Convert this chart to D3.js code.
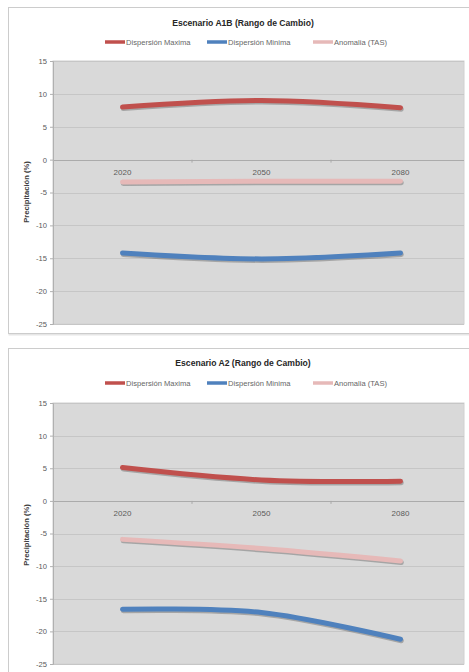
<!DOCTYPE html>
<html><head><meta charset="utf-8">
<script src="https://cdn.jsdelivr.net/npm/d3@7"></script>
<style>
html,body{margin:0;padding:0;background:#fff;}
svg{display:block;font-family:"Liberation Sans",Arial,sans-serif;}
</style></head>
<body>
<svg id="c" width="469" height="672"></svg>
<script>
const categories = ["2020", "2050", "2080"];
const yTicks = [15, 10, 5, 0, -5, -10, -15, -20, -25];
const seriesNames = ["Dispersión Maxima", "Dispersión Minima", "Anomalia (TAS)"];
const seriesColors = ["#C0504D", "#4F81BD", "#E6B9B8"];
const titles = ["Escenario A1B (Rango de Cambio)", "Escenario A2 (Rango de Cambio)"];
const yTitle = "Precipitación (%)";

// Escenario A1B
const a1bMax = [8.0, 9.0, 7.9];
const a1bMin = [-14.2, -15.1, -14.2];
const a1bAnom = [-3.4, -3.3, -3.3];
// Escenario A2
const a2Max = [5.1, 3.2, 3.0];
const a2Min = [-16.6, -17.1, -21.2];
const a2Anom = [-5.9, -7.3, -9.2];

const svg = d3.select("#c");

function drawChart(panel, title, seriesData) {
  const g = svg.append("g");
  // panel
  g.append("rect").attr("x", panel.x + 1).attr("y", panel.y + 1)
    .attr("width", panel.w).attr("height", panel.h)
    .attr("fill", "none").attr("stroke", "#e6e6e6").attr("stroke-width", 2);
  g.append("rect").attr("x", panel.x).attr("y", panel.y)
    .attr("width", panel.w).attr("height", panel.h)
    .attr("fill", "#fff").attr("stroke", "#cccccc").attr("stroke-width", 1);

  const x = d3.scaleBand().domain(categories).range([panel.plotL, panel.scaleR]);
  const y = d3.scaleLinear().domain([-25, 15]).range([panel.plotB, panel.plotT]);

  // title
  g.append("text").attr("x", panel.titleX).attr("y", panel.titleY)
    .attr("text-anchor", "middle").attr("font-size", 8.6).attr("font-weight", "bold")
    .attr("fill", "#262626").text(title);

  // legend
  const legX = [105, 207, 313];
  seriesNames.forEach((n, i) => {
    g.append("line").attr("x1", legX[i]).attr("x2", legX[i] + 20)
      .attr("y1", panel.legY).attr("y2", panel.legY)
      .attr("stroke", seriesColors[i]).attr("stroke-width", 3.5);
    g.append("text").attr("x", legX[i] + 21).attr("y", panel.legY + 2.7)
      .attr("font-size", 7.6).attr("fill", "#666").text(n);
  });

  // plot area
  g.append("rect").attr("x", panel.plotL).attr("y", y(15))
    .attr("width", panel.plotR - panel.plotL).attr("height", y(-25) - y(15))
    .attr("fill", "#D9D9D9").attr("stroke", "#d0d0d0");

  // gridlines
  g.selectAll(".grid").data(yTicks).enter().append("line")
    .attr("x1", panel.plotL).attr("x2", panel.plotR)
    .attr("y1", d => Math.round(y(d)) + 0.5).attr("y2", d => Math.round(y(d)) + 0.5)
    .attr("stroke", d => d === 0 ? "#ababab" : "#c6c6c6").attr("stroke-width", 1);

  // y axis
  const ya = g.append("g").attr("transform", `translate(${panel.plotL},0)`)
    .call(d3.axisLeft(y).tickValues(yTicks).tickFormat(d => String(d)).tickSize(3).tickPadding(3));
  ya.select(".domain").attr("stroke", "#b0b0b0");
  ya.selectAll(".tick line").attr("stroke", "#b0b0b0");
  ya.selectAll("text").attr("font-size", 7.6).attr("fill", "#595959")
    .attr("font-family", "Liberation Sans, Arial, sans-serif");

  // x axis at 0
  const xa = g.append("g").attr("transform", `translate(0,${Math.round(y(0)) + 0.5})`)
    .call(d3.axisBottom(x).tickSize(0).tickPadding(9));
  xa.select(".domain").remove();
  xa.selectAll("text").attr("font-size", 8).attr("fill", "#595959")
    .attr("font-family", "Liberation Sans, Arial, sans-serif");
  // boundary tick marks
  const bounds = categories.slice(1).map(c => x(c));
  g.selectAll(".xt").data(bounds).enter().append("line")
    .attr("x1", d => d).attr("x2", d => d)
    .attr("y1", y(0)).attr("y2", y(0) + 3)
    .attr("stroke", "#a8a8a8");

  // y title
  g.append("text")
    .attr("transform", `translate(${panel.yTitleX},${panel.yTitleY}) rotate(-90)`)
    .attr("text-anchor", "middle").attr("font-size", 7.6).attr("font-weight", "bold")
    .attr("fill", "#404040").text(yTitle);

  // lines
  const line = d3.line()
    .x((d, i) => x(categories[i]) + x.bandwidth() / 2)
    .y(d => y(d))
    .curve(d3.curveCardinal.tension(0));
  seriesData.forEach((vals, i) => {
    g.append("path").attr("d", line(vals))
      .attr("transform", "translate(0.8,1.5)")
      .attr("fill", "none").attr("stroke", "rgba(70,70,70,0.35)")
      .attr("stroke-width", 5).attr("stroke-linecap", "round");
    g.append("path").attr("d", line(vals))
      .attr("fill", "none").attr("stroke", seriesColors[i])
      .attr("stroke-width", 5).attr("stroke-linecap", "round");
  });
}

drawChart({x: 8.5, y: 7.5, w: 470, h: 326, plotL: 53, plotR: 464, scaleR: 470, plotT: 61, plotB: 324,
  titleX: 243, titleY: 26, legY: 42, yTitleX: 29, yTitleY: 192},
  titles[0], [a1bMax, a1bMin, a1bAnom]);

drawChart({x: 8.5, y: 348.5, w: 470, h: 330, plotL: 53, plotR: 464, scaleR: 470, plotT: 403, plotB: 664,
  titleX: 243, titleY: 366, legY: 383, yTitleX: 29, yTitleY: 535},
  titles[1], [a2Max, a2Min, a2Anom]);
</script>
</body></html>
